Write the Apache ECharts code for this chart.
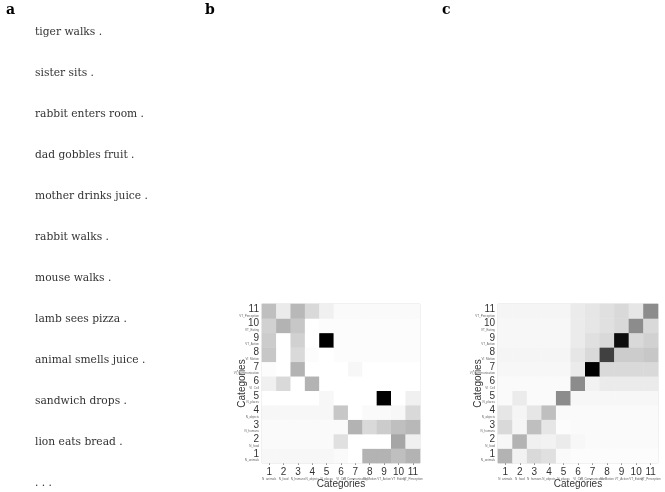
<!DOCTYPE html>
<html>
<head>
<meta charset="utf-8">
<script src="https://cdn.jsdelivr.net/npm/echarts@6/dist/echarts.min.js"></script>
<style>html,body{margin:0;padding:0;background:#fff;}#c{width:665px;height:492px;}</style>
</head>
<body>
<div id="c"></div>
<script>
var sentences = ['tiger walks .', 'sister sits .', 'rabbit enters room .', 'dad gobbles fruit .',
  'mother drinks juice .', 'rabbit walks .', 'mouse walks .', 'lamb sees pizza .',
  'animal smells juice .', 'sandwich drops .', 'lion eats bread .', '. . .'];
var panelLabels = ['a', 'b', 'c'];
var categories = ['1','2','3','4','5','6','7','8','9','10','11'];
var subLabels = ['N_animals','N_food','N_humans','N_objects','N_places','VI_Cell',
  'VI_Communication','VI_Motion','VT_Action','VT_Eating','VT_Perception'];
// rows listed from category 1 (bottom) to 11 (top), columns 1..11
var matrixB = [
  [0.03,0.03,0.03,0.03,0.03,0.02,0.00,0.30,0.30,0.25,0.30],
  [0.02,0.02,0.02,0.02,0.02,0.12,0.00,0.00,0.00,0.35,0.06],
  [0.02,0.02,0.02,0.02,0.02,0.02,0.30,0.15,0.20,0.25,0.28],
  [0.03,0.03,0.03,0.03,0.03,0.22,0.00,0.02,0.02,0.03,0.15],
  [0.00,0.00,0.00,0.00,0.03,0.00,0.00,0.00,1.00,0.00,0.06],
  [0.06,0.15,0.00,0.30,0.00,0.00,0.00,0.00,0.00,0.00,0.00],
  [0.01,0.00,0.30,0.00,0.00,0.00,0.03,0.00,0.00,0.00,0.00],
  [0.22,0.00,0.15,0.01,0.00,0.01,0.01,0.01,0.01,0.01,0.01],
  [0.20,0.00,0.18,0.00,1.00,0.01,0.01,0.01,0.01,0.01,0.01],
  [0.18,0.30,0.22,0.00,0.01,0.01,0.01,0.01,0.01,0.01,0.01],
  [0.25,0.08,0.28,0.15,0.06,0.02,0.02,0.02,0.02,0.02,0.02]
];
var matrixC = [
  [0.30,0.05,0.15,0.12,0.02,0.01,0.01,0.01,0.01,0.01,0.01],
  [0.03,0.30,0.06,0.05,0.08,0.03,0.02,0.02,0.02,0.02,0.02],
  [0.15,0.04,0.25,0.10,0.01,0.02,0.02,0.02,0.02,0.02,0.02],
  [0.10,0.04,0.10,0.25,0.02,0.02,0.02,0.02,0.02,0.02,0.02],
  [0.02,0.08,0.02,0.02,0.45,0.03,0.03,0.03,0.03,0.03,0.03],
  [0.02,0.02,0.02,0.02,0.02,0.45,0.05,0.08,0.08,0.08,0.08],
  [0.03,0.03,0.03,0.03,0.03,0.08,1.00,0.15,0.15,0.15,0.15],
  [0.04,0.04,0.04,0.04,0.04,0.10,0.15,0.75,0.20,0.20,0.22],
  [0.03,0.03,0.03,0.03,0.03,0.08,0.12,0.15,0.95,0.15,0.18],
  [0.03,0.03,0.03,0.03,0.03,0.08,0.10,0.12,0.15,0.45,0.15],
  [0.04,0.04,0.04,0.04,0.04,0.08,0.10,0.12,0.15,0.10,0.45]
];

function toData(m) {
  var d = [];
  for (var r = 0; r < m.length; r++)
    for (var c = 0; c < m[r].length; c++) d.push([c, r, m[r][c]]);
  return d;
}
var catLabel = function (v, i) { return '{n|' + v + '}\n{s|' + subLabels[i] + '}'; };
var rich = {
  n: { fontFamily: 'Liberation Sans', fontSize: 10, color: '#333', lineHeight: 9 },
  s: { fontFamily: 'Liberation Sans', fontSize: 3, color: '#666', lineHeight: 4 }
};
function xAxis(gi) {
  return {
    type: 'category', gridIndex: gi, data: categories, position: 'bottom',
    name: 'Categories', nameLocation: 'middle', nameGap: 16, nameMoveOverlap: false,
    nameTextStyle: { fontFamily: 'Liberation Sans', fontSize: 10, color: '#333' },
    axisLine: { show: false },
    axisTick: { show: true, alignWithLabel: true, length: 2, lineStyle: { color: '#999' } },
    axisLabel: { formatter: catLabel, rich: rich, margin: 5, interval: 0, align: 'center' },
    splitLine: { show: false }
  };
}
function yAxis(gi) {
  return {
    type: 'category', gridIndex: gi, data: categories,
    name: 'Categories', nameLocation: 'middle', nameGap: 15, nameRotate: 90, nameMoveOverlap: false,
    nameTextStyle: { fontFamily: 'Liberation Sans', fontSize: 10, color: '#333' },
    axisLine: { show: false }, axisTick: { show: false },
    axisLabel: { formatter: catLabel, rich: rich, margin: 3, interval: 0, align: 'right' },
    splitLine: { show: false }
  };
}

var graphics = sentences.map(function (s, i) {
  return { type: 'text', left: 35, top: 27 + i * 41,
    style: { text: s, fontFamily: 'DejaVu Serif', fontSize: 10.7, fill: '#333' } };
});
var labelX = [6, 205, 442];
panelLabels.forEach(function (p, i) {
  graphics.push({ type: 'text', left: labelX[i], top: 3,
    style: { text: p, fontFamily: 'DejaVu Serif', fontWeight: 'bold', fontSize: 14, fill: '#000' } });
});

var chart = echarts.init(document.getElementById('c'));
chart.setOption({
  backgroundColor: '#fff',
  animation: false,
  graphic: graphics,
  grid: [
    { left: 262, top: 304, width: 158, height: 159, show: true, borderColor: '#ddd', borderWidth: 1 },
    { left: 498, top: 304, width: 160, height: 159, show: true, borderColor: '#ddd', borderWidth: 1 }
  ],
  xAxis: [xAxis(0), xAxis(1)],
  yAxis: [yAxis(0), yAxis(1)],
  visualMap: { show: false, min: 0, max: 1, seriesIndex: [0, 1], inRange: { color: ['#ffffff', '#000000'] } },
  series: [
    { type: 'heatmap', xAxisIndex: 0, yAxisIndex: 0, data: toData(matrixB) },
    { type: 'heatmap', xAxisIndex: 1, yAxisIndex: 1, data: toData(matrixC) }
  ]
});
</script>
</body>
</html>
